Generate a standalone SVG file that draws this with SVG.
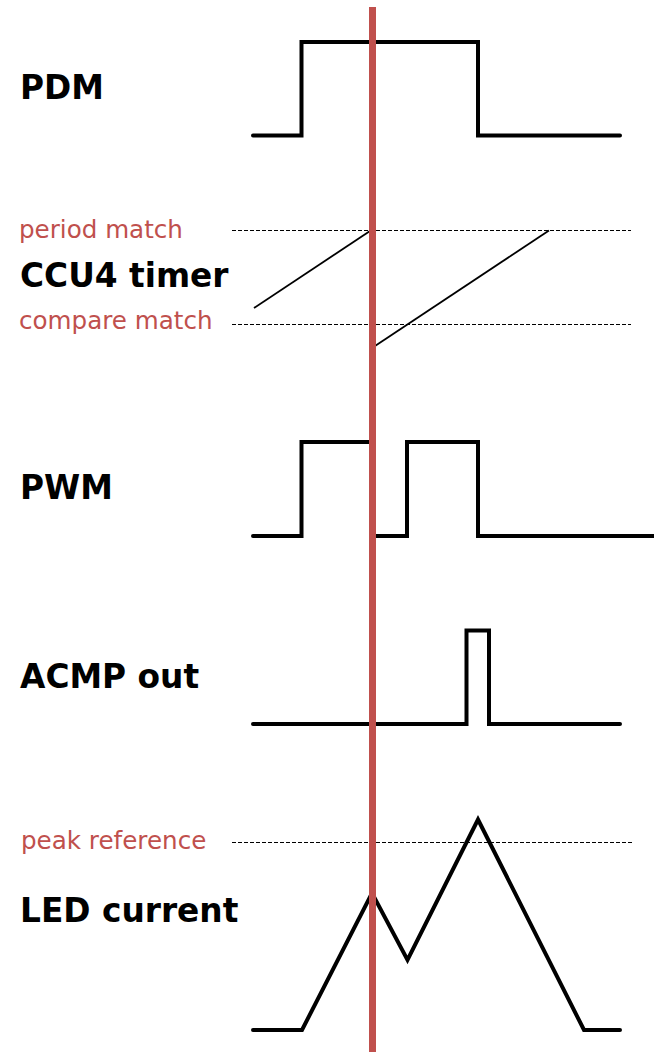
<svg xmlns="http://www.w3.org/2000/svg" width="654" height="1052" viewBox="0 0 654 1052">
  <style>
    .title { font-family: "DejaVu Sans", Verdana, sans-serif; font-weight: bold; font-size: 32.8px; fill: #000; }
    .level { font-family: "DejaVu Sans", Verdana, sans-serif; font-size: 24.6px; fill: #C0504D; }
    .wave { fill: none; stroke: #000; stroke-width: 4; stroke-linecap: round; stroke-linejoin: miter; }
    .ramp { fill: none; stroke: #000; stroke-width: 1.8; }
    .ref { fill: none; stroke: #000; stroke-width: 1; stroke-dasharray: 4 2; }
    .marker { fill: #C0504D; }
  </style>
  <rect width="654" height="1052" fill="#fff"/>

  <!-- PDM signal -->
  <g id="pdm">
    <text class="title" x="20" y="99">PDM</text>
    <path class="wave" d="M253,135.5 H301.5 V42 H478 V135.5 H620"/>
  </g>

  <!-- CCU4 timer sawtooth between compare and period levels -->
  <g id="ccu4">
    <text class="level" x="19" y="237.5">period match</text>
    <text class="title" x="20" y="287">CCU4 timer</text>
    <text class="level" x="19" y="328.5">compare match</text>
    <line class="ref" x1="232" y1="230.5" x2="631" y2="230.5"/>
    <line class="ref" x1="232" y1="324.5" x2="631" y2="324.5"/>
    <line class="ramp" x1="254" y1="308" x2="370" y2="231"/>
    <line class="ramp" x1="375" y1="346" x2="549" y2="230.5"/>
  </g>

  <!-- PWM output -->
  <g id="pwm">
    <text class="title" x="20" y="499">PWM</text>
    <path class="wave" d="M253,536 H301.5 V442 H372 V536 H407 V442 H478 V536 H656"/>
  </g>

  <!-- comparator output -->
  <g id="acmp">
    <text class="title" x="20" y="688">ACMP out</text>
    <path class="wave" d="M253,724 H466.5 V630.5 H489 V724 H620"/>
  </g>

  <!-- LED current with peak reference level -->
  <g id="led">
    <text class="level" x="21" y="849">peak reference</text>
    <text class="title" x="20" y="922">LED current</text>
    <line class="ref" x1="232" y1="842.5" x2="632" y2="842.5"/>
    <path class="wave" d="M253,1030 H302 L372,893 L407.5,960 L478,819.5 L584,1030 H620"/>
  </g>

  <!-- time cursor -->
  <g id="cursor">
    <rect class="marker" x="369" y="7" width="7" height="1045"/>
  </g>
</svg>
